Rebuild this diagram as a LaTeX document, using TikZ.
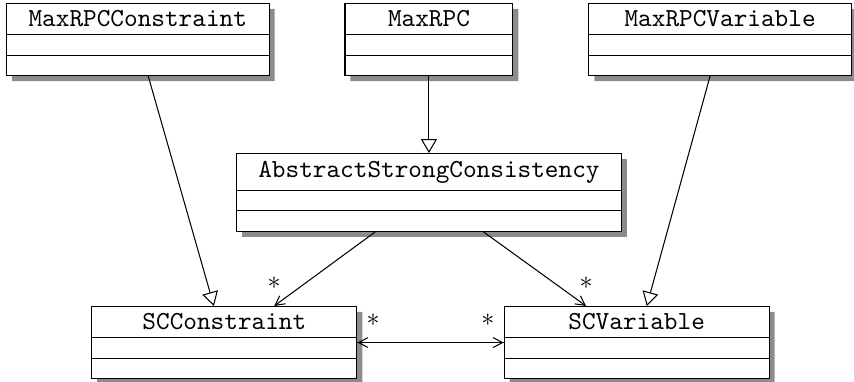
\documentclass[tikz,border=0pt]{standalone}
\usepackage{tikz,xcolor}
\usetikzlibrary{shapes.multipart,shadows,arrows.meta,positioning}

\newcommand{\emptyparts}{\nodepart{two}\rule{0pt}{2.3pt}\nodepart{three}\rule{0pt}{2.3pt}}

\begin{document}
\begin{tikzpicture}[x=1pt,y=1pt,
	umlclass/.style={rectangle split, rectangle split parts=3, draw, fill=white, font=\ttfamily, inner ysep=2.6pt,
		drop shadow={shadow xshift=2.1pt, shadow yshift=-2.1pt, fill=black!45, opacity=1}},
	inherit/.style={-{Triangle[open,length=5.4pt,width=6.2pt]}},
	assoc/.style={-{Straight Barb[length=3.6pt,width=3.8pt]}},
	mult/.style={font=\normalsize, inner sep=3.3pt}]
	\useasboundingbox (0,0) rectangle (328.5,-146.9);
	% create the nodes
	\node (maxrpc)[umlclass, minimum width=64.6pt, anchor=north] at (165,-1.15) {MaxRPC\emptyparts};
	\node (maxrpccons)[umlclass, minimum width=101pt, left=28.8pt of maxrpc] {MaxRPCConstraint\emptyparts};
	\node (maxrpcvar)[umlclass, minimum width=101pt, right=28.8pt of maxrpc] {MaxRPCVariable\emptyparts};
	\node (abstract)[umlclass, minimum width=148pt, below=29.6pt of maxrpc] {AbstractStrongConsistency\emptyparts};
	\node (sccons)[umlclass, minimum width=102pt, anchor=north] at (86.3,-117.7) {SCConstraint\emptyparts};
	\node (scvar)[umlclass, minimum width=102pt, right=56.2pt of sccons] {SCVariable\emptyparts};

	% connect the nodes
	\draw[inherit] (maxrpccons) -- (sccons);
	\draw[inherit] (maxrpcvar) -- (scvar);
	\draw[inherit] (maxrpc) -- (abstract);
	\draw[assoc] (abstract) -- node[mult, pos=1, anchor=south] {*} (sccons);
	\draw[assoc] (abstract) -- node[mult, pos=1, anchor=south] {*} (scvar);
	\draw[assoc] (sccons) -- node[mult, pos=0, anchor=south west] {*} node[mult, pos=1, anchor=south east] {*} (scvar);
	\draw[assoc] (scvar) -- (sccons);
\end{tikzpicture}
\end{document}
